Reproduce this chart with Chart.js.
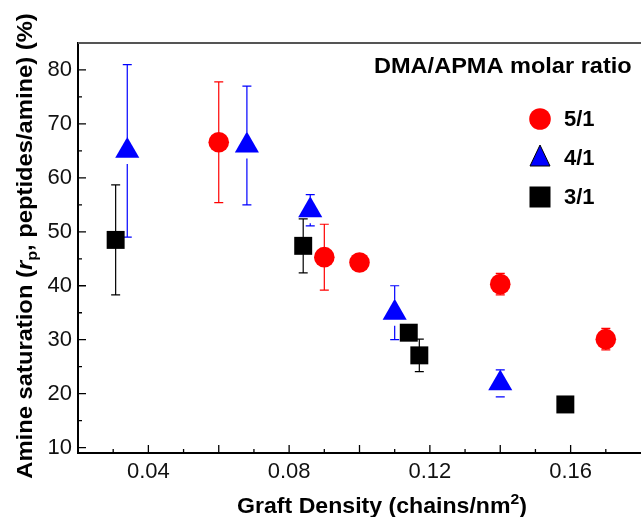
<!DOCTYPE html>
<html>
<head>
<meta charset="utf-8">
<title>Amine saturation vs graft density</title>
<script src="https://cdn.jsdelivr.net/npm/chart.js@4.4.1/dist/chart.umd.min.js"></script>
<style>
    html, body { margin: 0; padding: 0; background: #fff; }
    #satChart { display: block; }
</style>
</head>
<body>
<canvas id="satChart" width="641" height="517"></canvas>
<script>
// DMA/APMA molar ratio series
const ratioLabels = ['5/1', '4/1', '3/1'];

// 5/1 - graft density (chains/nm2), amine saturation (%), error (+/-)
const density51 = [0.060, 0.090, 0.100, 0.140, 0.170];
const saturation51 = [66.6, 45.3, 44.3, 40.3, 30.1];
const error51 = [11.2, 6.1, 1.0, 2.0, 2.0];

// 4/1
const density41 = [0.034, 0.068, 0.086, 0.110, 0.140];
const saturation41 = [65.0, 66.0, 54.0, 35.0, 21.9];
const error41 = [16.0, 11.0, 2.9, 5.0, 2.5];

// 3/1
const density31 = [0.0307, 0.084, 0.114, 0.117, 0.1585];
const saturation31 = [48.5, 47.4, 31.3, 27.1, 18.0];
const error31 = [10.2, 5.0, 1.0, 3.0, 1.0];

// Axis ticks
const xTickValues = [0.03, 0.04, 0.05, 0.06, 0.07, 0.08, 0.09, 0.10, 0.11, 0.12, 0.13, 0.14, 0.15, 0.16, 0.17];
const xTickLabels = ['0.04', '0.08', '0.12', '0.16'];
const yTickValues = [10, 15, 20, 25, 30, 35, 40, 45, 50, 55, 60, 65, 70, 75, 80];
const yTickLabels = ['10', '20', '30', '40', '50', '60', '70', '80'];

const FONT = "'Liberation Sans', Arial, Helvetica, sans-serif";

function toPoints(xs, ys) {
    return xs.map((x, i) => ({ x: x, y: ys[i] }));
}

// Draw pieces of text side by side (each with its own font / vertical offset)
function drawTextRun(ctx, pieces, x, y, align, stretch) {
    ctx.save();
    ctx.translate(x, y);
    ctx.scale(stretch, 1);
    let total = 0;
    pieces.forEach(p => {
        ctx.font = p.font;
        p.w = ctx.measureText(p.text).width;
        total += p.w;
    });
    let cx = align === 'center' ? -total / 2 : 0;
    ctx.textBaseline = 'alphabetic';
    ctx.textAlign = 'left';
    pieces.forEach(p => {
        ctx.font = p.font;
        ctx.fillText(p.text, cx, p.dy || 0);
        cx += p.w;
    });
    ctx.restore();
}

// Error bars, drawn before the markers so the markers sit on top
const errorBarPlugin = {
    id: 'errorBars',
    beforeDatasetsDraw(chart) {
        const ctx = chart.ctx;
        const yScale = chart.scales.y;
        chart.data.datasets.forEach((ds, i) => {
            const meta = chart.getDatasetMeta(i);
            const gap = ds.errorGap || 0;
            ctx.save();
            ctx.strokeStyle = ds.pointBackgroundColor;
            ctx.lineWidth = 1.2;
            meta.data.forEach((pt, j) => {
                const v = ds.data[j].y;
                const e = ds.errors[j];
                const top = yScale.getPixelForValue(v + e);
                const bottom = yScale.getPixelForValue(v - e);
                ctx.beginPath();
                if (pt.y - top > gap) {
                    ctx.moveTo(pt.x, pt.y - gap);
                    ctx.lineTo(pt.x, top);
                    ctx.moveTo(pt.x - 4.5, top);
                    ctx.lineTo(pt.x + 4.5, top);
                }
                if (bottom - pt.y > gap) {
                    ctx.moveTo(pt.x, pt.y + gap);
                    ctx.lineTo(pt.x, bottom);
                    ctx.moveTo(pt.x - 4.5, bottom);
                    ctx.lineTo(pt.x + 4.5, bottom);
                }
                ctx.stroke();
            });
            ctx.restore();
        });
    }
};

// Inward tick marks (major/minor) and the top frame line
const axisTicksPlugin = {
    id: 'axisTicks',
    afterDraw(chart) {
        const { ctx, chartArea, scales } = chart;
        ctx.save();
        ctx.strokeStyle = '#555';
        ctx.lineWidth = 2;
        ctx.beginPath();
        ctx.moveTo(chartArea.left, chartArea.top);
        ctx.lineTo(chartArea.right, chartArea.top);
        ctx.stroke();

        ctx.strokeStyle = '#000';
        ctx.lineWidth = 1.3;
        ctx.beginPath();
        scales.x.ticks.forEach(t => {
            const len = Math.round(t.value * 100) % 2 === 0 ? 8 : 4;
            const px = scales.x.getPixelForValue(t.value);
            ctx.moveTo(px, chartArea.bottom);
            ctx.lineTo(px, chartArea.bottom - len);
        });
        scales.y.ticks.forEach(t => {
            const len = t.value % 10 === 0 ? 8 : 4;
            const py = scales.y.getPixelForValue(t.value);
            ctx.moveTo(chartArea.left, py);
            ctx.lineTo(chartArea.left + len, py);
        });
        ctx.stroke();
        ctx.restore();
    }
};

// Axis titles (with sub/superscripts) and the in-plot legend
const labelsPlugin = {
    id: 'labels',
    afterDraw(chart) {
        const { ctx, chartArea } = chart;
        ctx.save();
        ctx.fillStyle = '#000';

        // X title
        drawTextRun(ctx, [
            { text: 'Graft Density (chains/nm', font: 'bold 22px ' + FONT },
            { text: '2', font: 'bold 15px ' + FONT, dy: -9 },
            { text: ')', font: 'bold 22px ' + FONT }
        ], 382, 513, 'center', 1.05);

        // Y title (rotated)
        ctx.save();
        ctx.translate(32, 246);
        ctx.rotate(-Math.PI / 2);
        drawTextRun(ctx, [
            { text: 'Amine saturation (', font: 'bold 22px ' + FONT },
            { text: 'r', font: 'italic bold 22px ' + FONT },
            { text: 'p', font: 'bold 15px ' + FONT, dy: 5 },
            { text: ', peptides/amine) (%)', font: 'bold 22px ' + FONT }
        ], 0, 0, 'center', 1.08);
        ctx.restore();

        // Legend title
        drawTextRun(ctx, [{ text: 'DMA/APMA molar ratio', font: 'bold 22px ' + FONT }],
            chartArea.left + 296, chartArea.top + 30, 'left', 1.07);

        // Legend entries
        const lx = chartArea.left + 462;
        const rows = [chartArea.top + 76, chartArea.top + 115, chartArea.top + 154];
        chart.data.datasets.forEach((ds, i) => {
            const cy = rows[i];
            ctx.fillStyle = ds.pointBackgroundColor;
            ctx.beginPath();
            if (ds.pointStyle === 'circle') {
                ctx.arc(lx, cy, 10.8, 0, Math.PI * 2);
                ctx.fill();
            } else if (ds.pointStyle === 'triangle') {
                ctx.moveTo(lx, cy - 13);
                ctx.lineTo(lx + 10, cy + 8);
                ctx.lineTo(lx - 10, cy + 8);
                ctx.closePath();
                ctx.fill();
                ctx.strokeStyle = '#000';
                ctx.lineWidth = 1;
                ctx.stroke();
            } else {
                ctx.fillRect(lx - 10.5, cy - 10.5, 21, 21);
            }
            ctx.fillStyle = '#000';
            drawTextRun(ctx, [{ text: ratioLabels[i], font: 'bold 22px ' + FONT }],
                lx + 24, cy + 7, 'left', 1);
        });
        ctx.restore();
    }
};

// Initialize chart
function initializeChart() {
    const ctx = document.getElementById('satChart');
    new Chart(ctx, {
        type: 'scatter',
        data: {
            datasets: [{
                label: ratioLabels[0],
                data: toPoints(density51, saturation51),
                errors: error51,
                pointStyle: 'circle',
                pointRadius: 10.3,
                pointBackgroundColor: '#ff0000',
                pointBorderWidth: 0
            }, {
                label: ratioLabels[1],
                data: toPoints(density41, saturation41),
                errors: error41,
                errorGap: 13,
                pointStyle: 'triangle',
                pointRadius: 13.9,
                pointBackgroundColor: '#0000ff',
                pointBorderWidth: 0
            }, {
                label: ratioLabels[2],
                data: toPoints(density31, saturation31),
                errors: error31,
                pointStyle: 'rect',
                pointRadius: 12.7,
                pointBackgroundColor: '#000000',
                pointBorderWidth: 0
            }]
        },
        options: {
            responsive: false,
            animation: false,
            events: [],
            layout: {
                autoPadding: false,
                padding: { top: 43, left: 0, right: 0, bottom: 0 }
            },
            plugins: {
                legend: { display: false },
                tooltip: { enabled: false }
            },
            scales: {
                x: {
                    type: 'linear',
                    min: 0.02,
                    max: 0.18,
                    afterBuildTicks: scale => {
                        scale.ticks = xTickValues.map(v => ({ value: v }));
                    },
                    afterFit: scale => {
                        scale.height = 64;
                        scale.paddingLeft = 0;
                        scale.paddingRight = 0;
                    },
                    grid: { display: false },
                    border: { display: true, color: '#000', width: 2 },
                    ticks: {
                        autoSkip: false,
                        minRotation: 0,
                        maxRotation: 0,
                        padding: -2,
                        color: '#111',
                        font: { family: FONT, size: 22 },
                        callback: value => {
                            const label = value.toFixed(2);
                            return xTickLabels.includes(label) ? label : '';
                        }
                    }
                },
                y: {
                    type: 'linear',
                    min: 9,
                    max: 85,
                    afterBuildTicks: scale => {
                        scale.ticks = yTickValues.map(v => ({ value: v }));
                    },
                    afterFit: scale => {
                        scale.width = 78;
                        scale.paddingTop = 0;
                        scale.paddingBottom = 0;
                    },
                    grid: { display: false },
                    border: { display: true, color: '#000', width: 2 },
                    ticks: {
                        autoSkip: false,
                        padding: -2,
                        color: '#111',
                        font: { family: FONT, size: 22 },
                        callback: value => {
                            const label = String(value);
                            return yTickLabels.includes(label) ? label : '';
                        }
                    }
                }
            }
        },
        plugins: [errorBarPlugin, axisTicksPlugin, labelsPlugin]
    });
}

// Start when DOM is loaded
if (document.readyState === 'loading') {
    document.addEventListener('DOMContentLoaded', initializeChart);
} else {
    initializeChart();
}
</script>
</body>
</html>
